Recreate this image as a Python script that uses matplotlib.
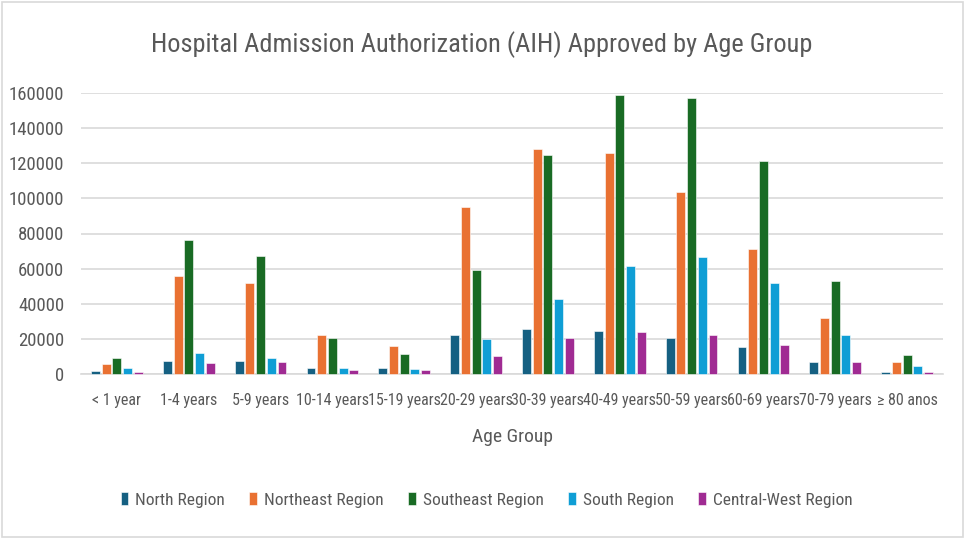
import matplotlib
matplotlib.use("Agg")
import matplotlib.pyplot as plt
import numpy as np
from matplotlib.patches import Rectangle

plt.rcParams['font.family'] = ['Roboto Condensed', 'Roboto', 'DejaVu Sans']

categories = ["< 1 year", "1-4 years", "5-9 years", "10-14 years", "15-19 years",
              "20-29 years", "30-39 years", "40-49 years", "50-59 years",
              "60-69 years", "70-79 years", "≥ 80 anos"]
north = [1500, 7600, 7200, 3200, 3200, 22400, 25400, 24300, 20700, 15400, 7000, 1300]
northeast = [5500, 56000, 52000, 22200, 16100, 94900, 128300, 125800, 103800, 71200, 32100, 7000]
southeast = [9300, 76500, 67200, 20700, 11600, 59000, 124500, 159000, 157200, 121500, 53000, 11000]
south = [3200, 12000, 8900, 3200, 3000, 20000, 42900, 61500, 66400, 52000, 22400, 4400]
central_west = [950, 6450, 6650, 2500, 2100, 10000, 20300, 23700, 22200, 16300, 7000, 1300]
series_names = ["North Region", "Northeast Region", "Southeast Region", "South Region", "Central-West Region"]
yticks = [0, 20000, 40000, 60000, 80000, 100000, 120000, 140000, 160000]

series = [north, northeast, southeast, south, central_west]
colors = ["#156082", "#E97132", "#196B24", "#0F9ED5", "#A02B93"]

fig = plt.figure(figsize=(9.64, 5.38), dpi=100)
fig.patch.set_facecolor("white")
ax = fig.add_axes([81/964, 164/538, (943-81)/964, (374-93)/538])

x = np.arange(len(categories))
slot = 0.149
bw = 0.125
for i, (vals, c, name) in enumerate(zip(series, colors, series_names)):
    ax.bar(x + (i - 2) * slot, vals, width=bw, color=c, label=name,
           edgecolor="white", linewidth=0.4, zorder=3, clip_on=False)

ax.set_xlim(-0.5, len(categories) - 0.5)
ax.set_ylim(0, 160000)
ax.set_yticks(yticks)
ax.set_yticklabels([str(v) for v in yticks])
ax.set_xticks(x)
ax.set_xticklabels(categories)
ax.yaxis.grid(True, color="#d9d9d9", linewidth=1.2, zorder=0)
ax.set_axisbelow(True)
for s in ["top", "right", "left"]:
    ax.spines[s].set_visible(False)
ax.spines["bottom"].set_color("#d9d9d9")
ax.spines["bottom"].set_linewidth(1.2)
ax.tick_params(axis="y", length=0, labelsize=13.5, colors="#595959", pad=12)
ax.tick_params(axis="x", length=0, labelsize=11.5, colors="#595959", pad=14)

ax.set_xlabel("Age Group", fontsize=14, color="#595959", labelpad=14)

fig.text(0.5, 1 - 45/538, "Hospital Admission Authorization (AIH) Approved by Age Group",
         ha="center", va="center", fontsize=19, color="#595959")

handles, labels = ax.get_legend_handles_labels()
leg = fig.legend(handles, labels, loc="center", bbox_to_anchor=(486.5/964, 1 - 500/538),
                 ncol=5, frameon=False, fontsize=12.5, handlelength=0.45, handleheight=0.7,
                 columnspacing=1.4, handletextpad=0.4)
for t in leg.get_texts():
    t.set_color("#595959")

fig.add_artist(Rectangle((1.5/964, 1.5/538), 961/964, 535/538, transform=fig.transFigure,
                         fill=False, edgecolor="#d9d9d9", linewidth=1.2))

fig.savefig("out.png", dpi=100, facecolor="white")
